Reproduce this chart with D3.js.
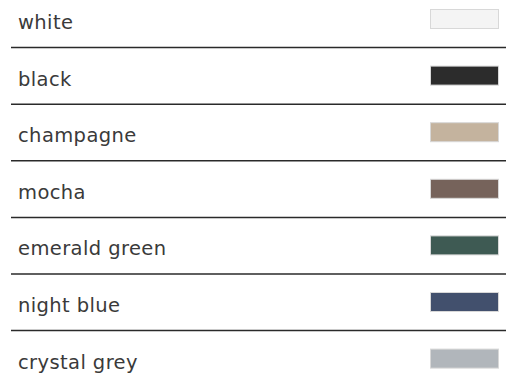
<!DOCTYPE html>
<html>
<head>
<meta charset="utf-8">
<script src="https://cdn.jsdelivr.net/npm/d3@7"></script>
<style>
  body { margin: 0; background: #fff; }
</style>
</head>
<body>
<script>
// colour names and swatch colours
var names = ["white", "black", "champagne", "mocha", "emerald green", "night blue", "crystal grey"];
var swatches = ["#f4f4f4", "#2c2c2c", "#c4b39e", "#76635b", "#3e5a53", "#42506d", "#b1b6bb"];

var width = 506, height = 379;

var svg = d3.select("body").append("svg")
    .attr("width", width)
    .attr("height", height);

// one band per colour row
var y = d3.scaleBand()
    .domain(names)
    .range([0, 56.6 * names.length])
    .padding(0);

var x = d3.scaleLinear().domain([0, 1]).range([430, 498]);

var rows = svg.selectAll("g.row")
    .data(names)
  .enter().append("g")
    .attr("class", "row")
    .attr("transform", function(d) { return "translate(0," + y(d) + ")"; });

// label
rows.append("text")
    .attr("x", 18)
    .attr("y", 29)
    .style("font-family", "'DejaVu Sans', sans-serif")
    .style("font-weight", 400)
    .style("font-size", "19.5px")
    .style("letter-spacing", "0.4px")
    .style("fill", "#3a3a3a")
    .text(function(d) { return d; });

// swatch
rows.append("rect")
    .attr("x", x(0) + 0.5)
    .attr("y", 9.5)
    .attr("width", x(1) - x(0))
    .attr("height", 19)
    .attr("fill", function(d, i) { return swatches[i]; })
    .attr("stroke", "#d8d8d8")
    .attr("stroke-width", 1);

// separator under every row but the last
rows.filter(function(d, i) { return i < names.length - 1; })
  .append("line")
    .attr("x1", 11)
    .attr("x2", width)
    .attr("y1", y.bandwidth() - 9)
    .attr("y2", y.bandwidth() - 9)
    .attr("stroke", "#2a2a2a")
    .attr("stroke-width", 1.5);
</script>
</body>
</html>
